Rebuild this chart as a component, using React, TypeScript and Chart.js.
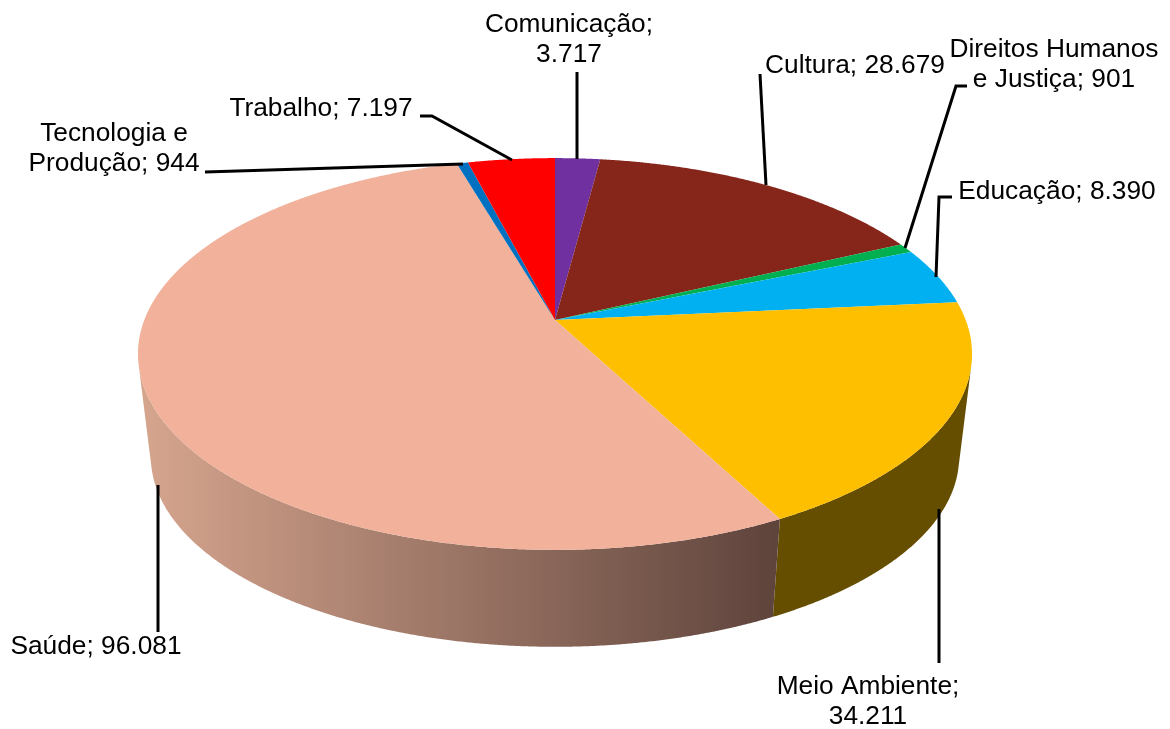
import React, { useEffect, useRef } from "react";
import { Chart, registerables } from "chart.js";

Chart.register(...registerables);

const categories = ["Comunicação", "Cultura", "Direitos Humanos e Justiça", "Educação", "Meio Ambiente", "Saúde", "Tecnologia e Produção", "Trabalho"];
const values = [3717, 28679, 901, 8390, 34211, 96081, 944, 7197];
const colors = ["#7030A0", "#86261A", "#00B050", "#00B0F0", "#FDBF00", "#F1B19A", "#0070C0", "#FF0000"];
const wallColors = ["#3A1854", "#46140E", "#005C2A", "#005C7E", "#664E00", "#000000", "#003A64", "#860000"];
const wallGradientIndex = 5;
const labelLines = [
  ["Comunicação;", "3.717"],
  ["Cultura; 28.679"],
  ["Direitos Humanos", "e Justiça; 901"],
  ["Educação; 8.390"],
  ["Meio Ambiente;", "34.211"],
  ["Saúde; 96.081"],
  ["Tecnologia e", "Produção; 944"],
  ["Trabalho; 7.197"],
];
const labelAnchors = [
  [569, 25],
  [855, 66],
  [1054, 50],
  [1057, 192],
  [868, 687],
  [96, 647],
  [114, 134],
  [321, 109],
];
const leaders = [
  [[577, 72], [577, 159]],
  [[760, 74], [766, 185]],
  [[967, 86], [956, 86], [905, 248]],
  [[952, 197], [939, 197], [936, 277]],
  [[939, 509], [939, 663]],
  [[158, 485], [158, 632]],
  [[205, 172], [463, 164]],
  [[420, 116], [432, 116], [512, 160]],
];

const FONT = "26.3px 'Liberation Sans', Arial, sans-serif";
const LINE_HEIGHT = 30;
const APEX = { x: 555, y: 320 };
const F = 410.7;
const G = 190;
const K = 0.1735;
const WALL_SCALE = 0.969;
const TOP_ELLIPSE_CY = 354;
const WALL_ELLIPSE_CY = 457;
// data angle (degrees from north) -> drawn angle, the reference's 3D view bends them slightly
const VIEW_WARP = [[0, 0], [64.75, 64.75], [66.55, 67.6], [83.3, 84.5], [151.7, 152.4], [360, 360]];

const warp = (a: number) => {
  const deg = (((a + Math.PI / 2) * 180) / Math.PI + 3600) % 360;
  for (let i = 1; i < VIEW_WARP.length; i++) {
    const [d0, v0] = VIEW_WARP[i - 1];
    const [d1, v1] = VIEW_WARP[i];
    if (deg <= d1) {
      const out = v0 + ((deg - d0) / (d1 - d0)) * (v1 - v0);
      return a + ((out - deg) * Math.PI) / 180;
    }
  }
  return a;
};
const project = (a: number) => {
  const u = Math.cos(a);
  const v = Math.sin(a);
  const d = 1 - K * v;
  return { x: APEX.x + (F * u) / d, y: APEX.y + (G * v) / d };
};
const projectWall = (a: number) => {
  const p = project(a);
  return {
    x: APEX.x + (p.x - APEX.x) * WALL_SCALE,
    y: WALL_ELLIPSE_CY + (p.y - TOP_ELLIPSE_CY) * WALL_SCALE,
  };
};
const sample = (a0: number, a1: number) => {
  const n = Math.max(2, Math.ceil(Math.abs(a1 - a0) / 0.004));
  return Array.from({ length: n + 1 }, (_, i) => a0 + ((a1 - a0) * i) / n);
};
const facesViewer = (a: number) => {
  const p = project(a);
  const q = project(a + 0.001);
  const w = projectWall(a);
  return (q.x - p.x) * (w.y - p.y) - (q.y - p.y) * (w.x - p.x) < 0;
};

const perspectivePie = {
  id: "perspectivePie",
  beforeDatasetsDraw(chart: any) {
    const ctx: CanvasRenderingContext2D = chart.ctx;
    const arcs = chart.getDatasetMeta(0).data;
    const angles = arcs.map((el: any) => {
      const { startAngle, endAngle } = el.getProps(["startAngle", "endAngle"], true);
      return { startAngle: warp(startAngle), endAngle: warp(endAngle) };
    });

    ctx.save();
    // side wall: only the part of each slice that faces the viewer
    angles.forEach((ang: any, i: number) => {
      const s = sample(ang.startAngle, ang.endAngle).filter(facesViewer);
      if (s.length < 2) return;
      ctx.beginPath();
      s.forEach((a, j) => {
        const p = project(a);
        if (j === 0) ctx.moveTo(p.x, p.y);
        else ctx.lineTo(p.x, p.y);
      });
      [...s].reverse().forEach((a) => {
        const p = projectWall(a);
        ctx.lineTo(p.x, p.y);
      });
      ctx.closePath();
      if (i === wallGradientIndex) {
        const g = ctx.createLinearGradient(140, 0, 775, 0);
        g.addColorStop(0, "#D6A58E");
        g.addColorStop(1, "#5F443C");
        ctx.fillStyle = g;
      } else {
        ctx.fillStyle = wallColors[i];
      }
      ctx.fill();
    });
    // top face
    angles.forEach((ang: any, i: number) => {
      const s = sample(ang.startAngle, ang.endAngle);
      ctx.beginPath();
      ctx.moveTo(APEX.x, APEX.y);
      s.forEach((a) => {
        const p = project(a);
        ctx.lineTo(p.x, p.y);
      });
      ctx.closePath();
      ctx.fillStyle = colors[i];
      ctx.fill();
    });
    // leaders
    ctx.strokeStyle = "#000";
    ctx.lineWidth = 3;
    ctx.lineJoin = "miter";
    leaders.forEach((pts) => {
      ctx.beginPath();
      pts.forEach(([x, y], j) => (j === 0 ? ctx.moveTo(x, y) : ctx.lineTo(x, y)));
      ctx.stroke();
    });
    // labels
    ctx.fillStyle = "#000";
    ctx.font = FONT;
    ctx.textAlign = "center";
    ctx.textBaseline = "middle";
    labelLines.forEach((lines, i) => {
      lines.forEach((t, j) => ctx.fillText(t, labelAnchors[i][0], labelAnchors[i][1] + j * LINE_HEIGHT));
    });
    ctx.restore();
    return false;
  },
};

export default function App() {
  const ref = useRef<HTMLCanvasElement>(null);
  useEffect(() => {
    const chart = new Chart(ref.current as HTMLCanvasElement, {
      type: "pie",
      data: {
        labels: categories,
        datasets: [{ data: values, backgroundColor: colors, borderWidth: 0 }],
      },
      options: {
        animation: false,
        responsive: false,
        plugins: { legend: { display: false }, tooltip: { enabled: false } },
      },
      plugins: [perspectivePie],
    } as any);
    return () => chart.destroy();
  }, []);
  return (
    <div style={{ position: "absolute", left: 0, top: 0, width: 1170, height: 729, background: "#fff" }}>
      <canvas ref={ref} width={1170} height={729} style={{ display: "block" }} />
    </div>
  );
}
